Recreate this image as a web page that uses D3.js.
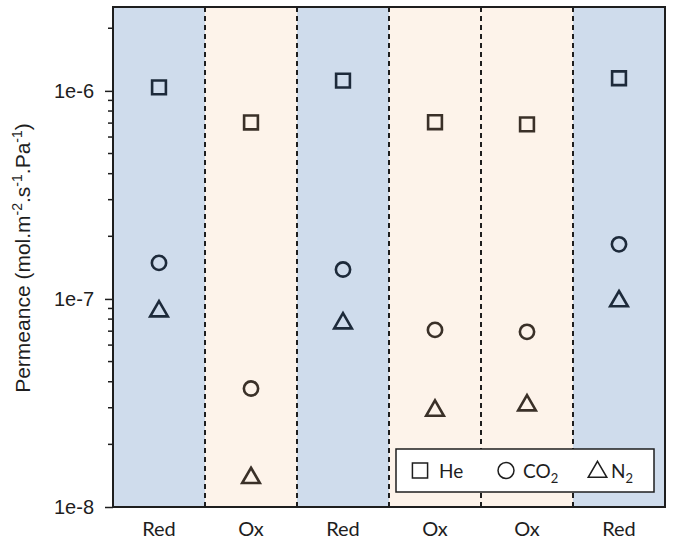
<!DOCTYPE html>
<html>
<head>
<meta charset="utf-8">
<script src="https://cdn.jsdelivr.net/npm/d3@7"></script>
<style>
  body { margin: 0; background: #fff; }
  svg { display: block; }
</style>
</head>
<body>
<svg id="chart"></svg>
<script>
// data
const conditions = ["Red", "Ox", "Red", "Ox", "Ox", "Red"];
const heValues   = [1.04e-6, 7.05e-7, 1.12e-6, 7.07e-7, 6.9e-7, 1.15e-6];
const co2Values  = [1.49e-7, 3.71e-8, 1.385e-7, 7.1e-8, 6.95e-8, 1.83e-7];
const n2Values   = [8.92e-8, 1.41e-8, 7.81e-8, 2.97e-8, 3.15e-8, 9.97e-8];
const yTicks     = [1e-8, 1e-7, 1e-6];
const gases      = ["He", "CO2", "N2"];

// setup
const width  = 673;
const height = 543;
const margin = { top: 7, right: 8, bottom: 36, left: 113 };

const colors = { 'redBand'  : '#cfdcec',
                 'oxBand'   : '#fdf3ea',
                 'redMark'  : '#1d2a3a',
                 'oxMark'   : '#3a3028',
                 'axis'     : '#1e1e1e' };

const svg = d3.select("#chart")
              .attr("width", width)
              .attr("height", height);

const x = d3.scaleBand()
            .domain(d3.range(conditions.length))
            .range([margin.left, width - margin.right]);

const y = d3.scaleLog()
            .domain([1e-8, 2.53e-6])
            .range([height - margin.bottom, margin.top]);

// bands
svg.append("g").selectAll("rect")
   .data(conditions)
   .join("rect")
     .attr("x", (d, i) => x(i))
     .attr("y", margin.top)
     .attr("width", x.bandwidth())
     .attr("height", y(1e-8) - margin.top)
     .attr("fill", d => d === "Red" ? colors.redBand : colors.oxBand);

// dashed dividers
svg.append("g").selectAll("line")
   .data(d3.range(1, conditions.length))
   .join("line")
     .attr("x1", i => x(i)).attr("x2", i => x(i))
     .attr("y1", margin.top).attr("y2", y(1e-8))
     .attr("stroke", colors.axis)
     .attr("stroke-width", 2)
     .attr("stroke-dasharray", "5,4");

// markers
const symSize = { He: 190, CO2: 160, N2: 135 };
function drawMarks(values, gas){
  const sym = gas === "He" ? d3.symbolSquare : gas === "CO2" ? d3.symbolCircle : d3.symbolTriangle;
  svg.append("g").selectAll("path")
     .data(values)
     .join("path")
       .attr("d", d3.symbol().type(sym).size(symSize[gas]))
       .attr("transform", (d, i) => {
         const dy = gas === "N2" ? 2 : 0;
         return "translate(" + (x(i) + x.bandwidth() / 2) + "," + (y(d) + dy) + ")";
       })
       .attr("fill", "none")
       .attr("stroke", (d, i) => conditions[i] === "Red" ? colors.redMark : colors.oxMark)
       .attr("stroke-width", 2.6);
}
drawMarks(heValues, "He");
drawMarks(co2Values, "CO2");
drawMarks(n2Values, "N2");

// y axis
const yAxis = svg.append("g")
  .attr("transform", "translate(" + margin.left + ",0)")
  .call(d3.axisLeft(y).tickValues(yTicks).tickFormat(d => "1e" + Math.round(Math.log10(d))).tickSize(8));
yAxis.select(".domain").remove();
yAxis.selectAll(".tick line").attr("stroke", colors.axis).attr("stroke-width", 1.5);
yAxis.selectAll(".tick text")
     .attr("x", -19)
     .attr("font-family", "'Liberation Sans', Arial, sans-serif")
     .attr("font-size", 20)
     .attr("fill", colors.axis);

// minor ticks
const minorTicks = y.ticks().filter(t => yTicks.indexOf(t) < 0 && y(t) >= margin.top);
svg.append("g").selectAll("line")
   .data(minorTicks)
   .join("line")
     .attr("x1", margin.left - 5).attr("x2", margin.left)
     .attr("y1", d => y(d)).attr("y2", d => y(d))
     .attr("stroke", colors.axis)
     .attr("stroke-width", 1.5);

// x labels
svg.append("g").selectAll("text")
   .data(conditions)
   .join("text")
     .attr("x", (d, i) => x(i) + x.bandwidth() / 2)
     .attr("y", height - 7)
     .attr("text-anchor", "middle")
     .attr("font-family", "Lato, 'Open Sans', sans-serif")
     .attr("font-size", 20)
     .attr("fill", colors.axis)
     .text(d => d);

// y title
const yTitle = svg.append("text")
  .attr("transform", "translate(30,258) rotate(-90)")
  .attr("text-anchor", "middle")
  .attr("font-family", "'Liberation Sans', Arial, sans-serif")
  .attr("font-size", 21)
  .attr("fill", colors.axis);
yTitle.append("tspan").text("Permeance (mol.m");
yTitle.append("tspan").attr("dy", -8).attr("font-size", 14).text("-2");
yTitle.append("tspan").attr("dy", 8).text(".s");
yTitle.append("tspan").attr("dy", -8).attr("font-size", 14).text("-1");
yTitle.append("tspan").attr("dy", 8).text(".Pa");
yTitle.append("tspan").attr("dy", -8).attr("font-size", 14).text("-1");
yTitle.append("tspan").attr("dy", 8).text(")");

// legend
const legend = svg.append("g");
legend.append("rect")
  .attr("x", 396).attr("y", 449)
  .attr("width", 258).attr("height", 43)
  .attr("fill", "#fff")
  .attr("stroke", colors.axis)
  .attr("stroke-width", 1.5);

const legendItems = [
  { gas: "He",  sym: d3.symbolSquare,   size: 230, sx: 420,   tx: 439, main: "He",  sub: "" },
  { gas: "CO2", sym: d3.symbolCircle,   size: 200, sx: 506,   tx: 523, main: "CO",  sub: "2" },
  { gas: "N2",  sym: d3.symbolTriangle, size: 150, sx: 597.5, tx: 611, main: "N",   sub: "2" }
];
legendItems.forEach(it => {
  legend.append("path")
    .attr("d", d3.symbol().type(it.sym).size(it.size))
    .attr("transform", "translate(" + it.sx + "," + (it.gas === "N2" ? 472 : 470.5) + ")")
    .attr("fill", "none")
    .attr("stroke", colors.axis)
    .attr("stroke-width", 1.5);
  const t = legend.append("text")
    .attr("x", it.tx).attr("y", 477.5)
    .attr("font-family", "Lato, 'Open Sans', sans-serif")
    .attr("font-size", 19)
    .attr("fill", colors.axis);
  t.append("tspan").text(it.main);
  if (it.sub) t.append("tspan").attr("dy", 5).attr("font-size", 13).text(it.sub);
});

// frame
svg.append("rect")
  .attr("x", margin.left).attr("y", margin.top)
  .attr("width", width - margin.right - margin.left)
  .attr("height", y(1e-8) - margin.top)
  .attr("fill", "none")
  .attr("stroke", colors.axis)
  .attr("stroke-width", 2);
</script>
</body>
</html>
